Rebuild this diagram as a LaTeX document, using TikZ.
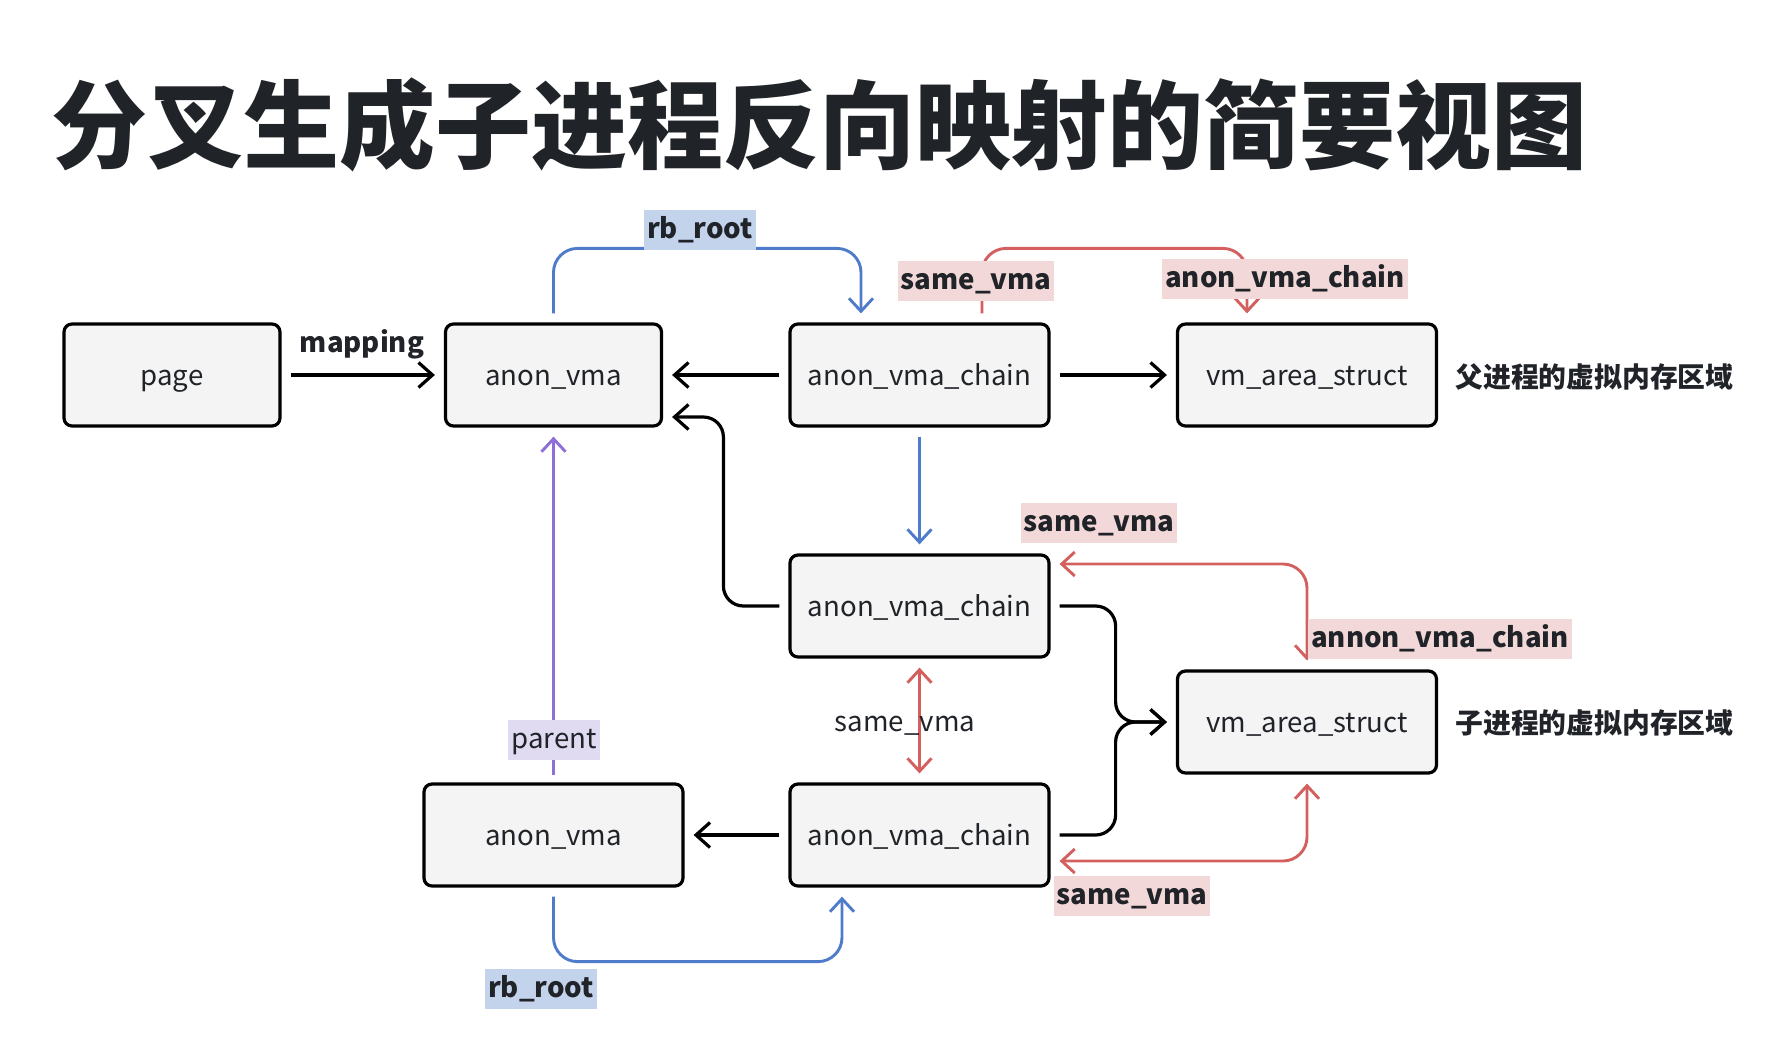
\documentclass[tikz,border=0pt]{standalone}
\usepackage{fontspec}
\setmainfont{Noto Sans CJK SC}
\newfontfamily\titlefont{Noto Sans CJK SC}[UprightFont={* Black}]
\usetikzlibrary{arrows.meta,calc}
\definecolor{ink}{HTML}{202328}
\definecolor{boxfill}{HTML}{F4F4F4}
\definecolor{bluel}{HTML}{4F7BCB}
\definecolor{redl}{HTML}{D35F5F}
\definecolor{purplel}{HTML}{8E6FD8}
\definecolor{bluebg}{HTML}{C4D3EC}
\definecolor{redbg}{HTML}{F2D8D8}
\definecolor{purplebg}{HTML}{E0DBF1}
\begin{document}
\begin{tikzpicture}[x=.5pt, y=-.5pt, >={Straight Barb[length=7pt,width=12.5pt]},
    every node/.style={text=ink},
    box/.style={draw=black, line width=1.6pt, fill=boxfill, rounded corners=4pt,
        minimum width=129.5pt, minimum height=51pt, inner sep=0pt,
        text height=10pt, text depth=0pt, font=\fontsize{13.8}{16}\selectfont},
    conn/.style={line width=1.6pt, shorten <=4.5pt, shorten >=4.5pt},
    thin/.style={line width=1.45pt, shorten <=4.5pt, shorten >=4.5pt,
        >={Straight Barb[length=6.5pt,width=12pt]}},
    lbl/.style={inner xsep=1.5pt, inner ysep=0pt, minimum height=20pt,
        text height=8.5pt, text depth=0pt,
        font=\bfseries\fontsize{13.8}{16}\selectfont},
    side/.style={anchor=west, inner sep=0pt, font=\bfseries\fontsize{13.9}{16}\selectfont}]
\path[use as bounding box] (0,0) rectangle (1782,1056);
\node[anchor=west, inner sep=0pt, font=\titlefont\fontsize{48}{56}\selectfont] (title) at (51,125) {分叉生成子进程反向映射的简要视图};

% boxes
\node[box, minimum width=108pt] (page) at (172,375) {page};
\node[box, minimum width=108pt] (av1) at (553.5,375) {anon\_vma};
\node[box] (c1) at (919.5,375) {anon\_vma\_chain};
\node[box] (vm1) at (1307,375) {vm\_area\_struct};
\node[box] (c2) at (919.5,606) {anon\_vma\_chain};
\node[box] (vm2) at (1307,722) {vm\_area\_struct};
\node[box] (av2) at (553.5,835) {anon\_vma};
\node[box] (c3) at (919.5,835) {anon\_vma\_chain};
\node[side] (ptxt) at (1455,377) {父进程的虚拟内存区域};
\node[side] (ctxt) at (1455,723) {子进程的虚拟内存区域};

% black links
\draw[conn,->] (page) -- (av1);
\draw[conn,->] (c1) -- (av1);
\draw[conn,->] (c1) -- (vm1);
\draw[conn,->,rounded corners=10pt] (c2.west) -- ++(-65,0) |- ($(av1.east)+(0,42)$);
\draw[conn,->,rounded corners=10pt] (c2.east) -- ++(65,0) |- (vm2.west);
\draw[conn,->,rounded corners=10pt] (c3.east) -- ++(65,0) |- (vm2.west);
\draw[conn,->] (c3) -- (av2);

% colored links
\draw[thin,bluel,->] (c1) -- (c2);
\draw[thin,bluel,->,rounded corners=12pt] (av1.north) -- ++(0,-74) -| ($(c1.north)+(-58.5,0)$);
\draw[thin,bluel,->,rounded corners=12pt] (av2.south) -- ++(0,74) -| ($(c3.south)+(-77.5,0)$);
\draw[thin,redl,->,rounded corners=12pt] ($(c1.north)+(62.5,0)$) -- ++(0,-74) -| ($(vm1.north)+(-60,0)$);
\draw[thin,redl,<->,rounded corners=12pt] ($(c2.east)+(0,-42)$) -| (vm2.north);
\draw[thin,redl,<->] (c2) -- (c3);
\draw[thin,redl,<->,rounded corners=12pt] ($(c3.east)+(0,26)$) -| (vm2.south);
\draw[thin,purplel,->,shorten <=3.5pt] (av2) -- (av1);

% labels
\node[lbl] (map) at (362,344) {mapping};
\node[lbl, fill=bluebg] (rbtop) at (700,230) {rb\_root};
\node[lbl, fill=redbg] (svtop) at (976,281) {same\_vma};
\node[lbl, fill=redbg] (avctop) at (1285,279) {anon\_vma\_chain};
\node[lbl, fill=redbg] (svmid) at (1099,523) {same\_vma};
\node[lbl, fill=redbg] (avcmid) at (1440,639) {annon\_vma\_chain};
\node[lbl, font=\fontsize{13.8}{16}\selectfont] (svc) at (905,723) {same\_vma};
\node[lbl, fill=redbg] (svbot) at (1132,896) {same\_vma};
\node[lbl, fill=bluebg] (rbbot) at (541,989) {rb\_root};
\node[lbl, fill=purplebg, font=\fontsize{13.8}{16}\selectfont] (par) at (554,740) {parent};
\end{tikzpicture}
\end{document}
